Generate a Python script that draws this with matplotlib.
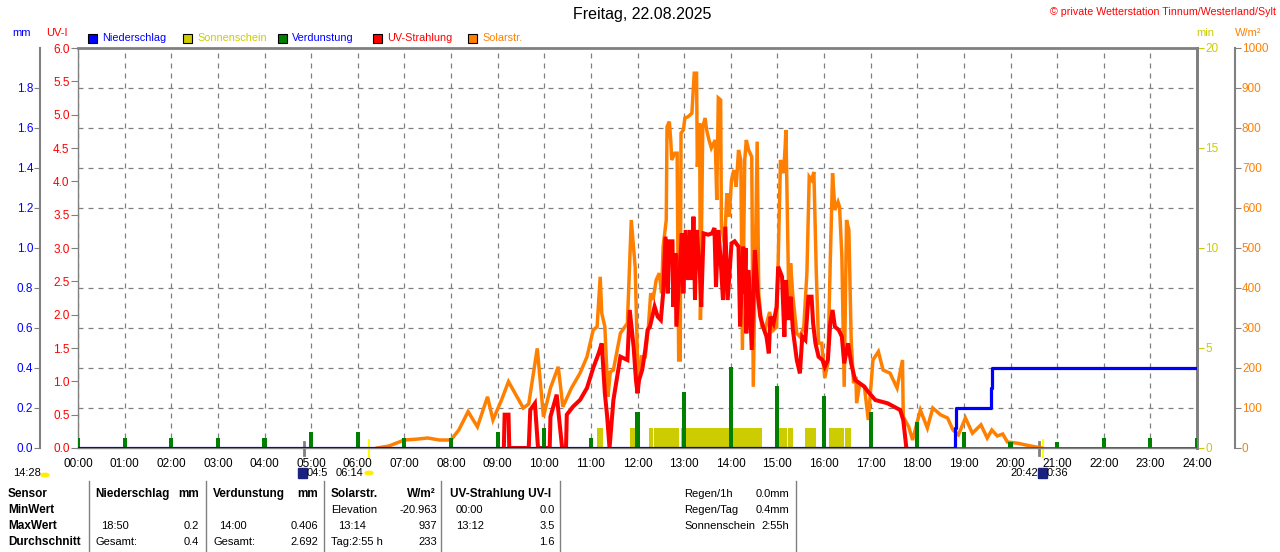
import matplotlib
matplotlib.use('Agg')
import matplotlib.pyplot as plt
from matplotlib.patches import Rectangle, Circle
import numpy as np

plt.rcParams['font.family'] = ['Liberation Sans', 'DejaVu Sans']
plt.rcParams['font.size'] = 8.5

# --- data ---
hours = list(range(25))
hour_labels = ['%02d:00' % h for h in hours]

solar_time = ['06:25', '06:40', '07:00', '07:15', '07:30', '07:45', '08:00', '08:10', '08:22', '08:34',
              '08:47', '08:54', '09:05', '09:14', '09:33', '09:40', '09:51', '09:59', '10:08', '10:18',
              '10:24', '10:35', '10:46', '10:55', '11:03', '11:08', '11:12', '11:14', '11:18', '11:22',
              '11:25', '11:29', '11:38', '11:47', '11:52', '11:57', '12:00', '12:02', '12:05', '12:10',
              '12:14', '12:17', '12:20', '12:24', '12:28', '12:31', '12:33', '12:37', '12:38', '12:41',
              '12:43', '12:44', '12:48', '12:51', '12:53', '12:55', '12:56', '12:59', '13:01', '13:05',
              '13:10', '13:13', '13:16', '13:17', '13:20', '13:21', '13:24', '13:27', '13:29', '13:32',
              '13:35', '13:40', '13:42', '13:44', '13:47', '13:48', '13:52', '13:55', '13:58', '14:01',
              '14:04', '14:07', '14:10', '14:13', '14:15', '14:18', '14:20', '14:23', '14:27', '14:29',
              '14:34', '14:36', '14:40', '14:44', '14:50', '14:55', '14:59', '15:01', '15:04', '15:08',
              '15:10', '15:11', '15:13', '15:15', '15:17', '15:20', '15:25', '15:29', '15:34', '15:38',
              '15:41', '15:44', '15:47', '15:50', '15:53', '15:57', '16:01', '16:05', '16:08', '16:11',
              '16:14', '16:18', '16:20', '16:23', '16:26', '16:29', '16:32', '16:35', '16:38', '16:41',
              '16:42', '16:46', '16:52', '16:57', '17:03', '17:10', '17:16', '17:25', '17:34', '17:41',
              '17:42', '17:49', '17:54', '18:04', '18:13', '18:20', '18:30', '18:39', '18:46', '18:53',
              '19:02', '19:11', '19:22', '19:30', '19:36', '19:43', '19:50', '19:56', '20:09', '20:26',
              '20:40']
solar_wm2 = [0, 5, 20, 22, 25, 20, 20, 45, 91, 53,
             128, 70, 120, 166, 100, 110, 249, 78, 150, 203,
             103, 150, 187, 228, 295, 303, 428, 337, 303, 128,
             190, 195, 287, 312, 570, 452, 220, 170, 228, 228,
             303, 387, 370, 420, 437, 387, 503, 570, 803, 816,
             762, 720, 737, 737, 220, 220, 787, 795, 825, 828,
             837, 937, 937, 703, 812, 320, 803, 825, 795, 770,
             750, 770, 620, 875, 870, 553, 512, 637, 578, 670,
             695, 653, 745, 720, 245, 720, 770, 745, 728, 153,
             766, 387, 303, 295, 340, 295, 303, 462, 720, 687,
             753, 795, 570, 337, 462, 378, 287, 278, 303, 437,
             678, 670, 690, 445, 262, 262, 175, 212, 462, 687,
             595, 615, 603, 478, 153, 570, 545, 270, 162, 178,
             112, 162, 153, 70, 220, 241, 195, 187, 150, 220,
             78, 53, 20, 95, 50, 100, 83, 75, 45, 33,
             75, 37, 58, 25, 45, 30, 35, 15, 12, 5,
             0]

uv_time = ['09:08', '09:09', '09:14', '09:15', '09:40', '09:42', '09:48', '09:52', '10:07', '10:08',
           '10:16', '10:23', '10:28', '10:29', '10:37', '10:46', '10:55', '11:03', '11:10', '11:14',
           '11:18', '11:21', '11:24', '11:29', '11:38', '11:47', '11:50', '11:55', '11:58', '12:00',
           '12:02', '12:06', '12:10', '12:13', '12:16', '12:22', '12:26', '12:30', '12:33', '12:36',
           '12:39', '12:41', '12:45', '12:46', '12:49', '12:50', '12:55', '12:57', '12:59', '13:02',
           '13:05', '13:08', '13:10', '13:12', '13:14', '13:16', '13:20', '13:22', '13:25', '13:31',
           '13:36', '13:39', '13:41', '13:44', '13:47', '13:50', '13:53', '13:56', '14:01', '14:05',
           '14:10', '14:12', '14:16', '14:18', '14:19', '14:20', '14:23', '14:27', '14:31', '14:35',
           '14:38', '14:43', '14:46', '14:49', '14:51', '14:55', '14:59', '15:01', '15:06', '15:09',
           '15:11', '15:14', '15:17', '15:20', '15:25', '15:29', '15:32', '15:36', '15:40', '15:44',
           '15:46', '15:49', '15:53', '15:58', '16:01', '16:05', '16:08', '16:11', '16:14', '16:19',
           '16:23', '16:26', '16:31', '16:35', '16:40', '16:46', '16:52', '16:55', '17:00', '17:06',
           '17:22', '17:30', '17:38', '17:42', '17:46']
uv_index = [0, 0.5, 0.5, 0, 0, 0.57, 0.67, 0, 0, 0.47,
            0.8, 0, 0, 0.5, 0.62, 0.72, 0.9, 1.2, 1.42, 1.57,
            0.82, 0.47, 0, 0.72, 1.37, 1.32, 2.07, 1.52, 1.02, 0.82,
            1.02, 1.17, 1.47, 1.77, 1.82, 2.12, 1.97, 1.92, 2.32, 3.17,
            2.32, 3.1, 3.1, 2.12, 2.92, 1.82, 2.82, 3.22, 2.32, 3.27,
            2.52, 3.27, 2.52, 3.47, 2.22, 3.27, 2.72, 2.12, 3.22, 3.2,
            3.22, 3.3, 2.42, 3.27, 2.82, 2.22, 3.32, 2.22, 3.07, 3.1,
            3.02, 1.82, 3.02, 2.32, 3.0, 1.72, 2.67, 1.47, 2.97, 2.27,
            1.97, 1.77, 1.67, 1.42, 1.97, 1.87, 2.12, 2.72, 2.57, 1.67,
            2.52, 1.92, 2.27, 1.77, 1.32, 1.12, 1.67, 1.62, 2.27, 2.27,
            1.87, 1.57, 1.37, 1.32, 1.22, 1.32, 1.87, 2.07, 1.82, 1.77,
            1.67, 1.27, 1.57, 1.27, 1.02, 0.97, 0.92, 0.87, 0.8, 0.72,
            0.67, 0.62, 0.57, 0.42, 0]

evap_mm = [0.05, 0.05, 0.05, 0.05, 0.05, 0.08, 0.08, 0.05, 0.05, 0.08, 0.10, 0.05,
           0.18, 0.28, 0.406, 0.31, 0.26, 0.18, 0.13, 0.08, 0.03, 0.03, 0.05, 0.05, 0.05]

rain_time = ['00:00', '18:48', '18:49', '18:50', '19:34', '19:35', '19:36', '24:00']
rain_mm = [0, 0, 0.1, 0.2, 0.2, 0.3, 0.4, 0.4]

sun_start = ['11:08', '11:50', '12:15', '12:21', '12:56', '14:29', '15:02', '15:14', '15:35', '16:06', '16:27']
sun_end = ['11:16', '11:59', '12:20', '12:53', '14:28', '14:40', '15:13', '15:20', '15:50', '16:26', '16:35']
sun_min = [1.0] * len(sun_start)

dawn_times = ['04:51', '20:37']
sunrise_times = ['06:14', '20:42']

uv_ticks = np.arange(0, 6.01, 0.5)
mm_ticks = np.arange(0, 1.81, 0.2)
min_ticks = [0, 5, 10, 15, 20]
wm2_ticks = list(range(0, 1001, 100))


def hrs(t):
    h, m = t.split(':')
    return int(h) + int(m) / 60.0


BLUE = '#0000ff'
YEL = '#cccc00'
GREEN = '#008000'
RED = '#ff0000'
ORANGE = '#ff8000'
GRAY = '#808080'

W, H = 1280, 552
fig = plt.figure(figsize=(W / 100, H / 100), dpi=100)
L, R, T, B = 78, 1197, 48, 448


def fx(x):
    return x / W


def fy(y):
    return 1 - y / H


# base axes: grid + UV-I scale
ax = fig.add_axes([fx(L), fy(B), (R - L) / W, (B - T) / H])
ax.set_xlim(0, 24)
ax.set_ylim(0, 6)
ax.set_xticks(hours)
ax.set_xticklabels(hour_labels)
ax.set_yticks(uv_ticks)
ax.set_yticklabels(['%.1f' % v for v in uv_ticks])
ax.set_yticks(np.linspace(0, 6, 11), minor=True)
ax.grid(axis='x', which='major', color=GRAY, ls=(0, (4, 4)), lw=0.9)
ax.grid(axis='y', which='minor', color=GRAY, ls=(0, (4, 4)), lw=0.9)
ax.tick_params(axis='y', which='minor', length=0)
ax.tick_params(axis='y', which='major', color=GRAY, labelcolor=RED, length=5, pad=1)
ax.tick_params(axis='x', length=0, pad=7)
for s in ax.spines.values():
    s.set_color(GRAY)
ax.spines['top'].set_linewidth(2)
ax.spines['right'].set_linewidth(2)
ax.spines['left'].set_linewidth(1)
ax.spines['bottom'].set_linewidth(1)

# sunshine (min)
ax_sun = ax.twinx()
ax_sun.set_ylim(0, 20)
ax_sun.set_yticks(min_ticks)
ax_sun.tick_params(axis='y', color=YEL, labelcolor=YEL, length=5, pad=1)
ax_sun.spines['right'].set_color(GRAY)
ax_sun.spines['right'].set_linewidth(2)
for k in ['left', 'top', 'bottom']:
    ax_sun.spines[k].set_visible(False)
s0 = [hrs(t) for t in sun_start]
s1 = [hrs(t) for t in sun_end]
ax_sun.bar(s0, sun_min, width=np.array(s1) - np.array(s0), align='edge', color=YEL, lw=0)

# solar radiation (W/m2)
ax_sol = ax.twinx()
ax_sol.set_ylim(0, 1000)
ax_sol.set_yticks(wm2_ticks)
ax_sol.spines['right'].set_position(('axes', (1235 - L) / (R - L)))
ax_sol.spines['right'].set_color(GRAY)
ax_sol.spines['right'].set_linewidth(1.5)
for k in ['left', 'top', 'bottom']:
    ax_sol.spines[k].set_visible(False)
ax_sol.tick_params(axis='y', color=GRAY, labelcolor=ORANGE, length=4, pad=1)
ax_sol.plot([hrs(t) for t in solar_time], solar_wm2, color=ORANGE, lw=2.5, solid_joinstyle='miter')

# UV index
ax_uv = ax.twinx()
ax_uv.set_ylim(0, 6)
ax_uv.axis('off')
ax_uv.plot([hrs(t) for t in uv_time], uv_index, color=RED, lw=2.9, solid_joinstyle='miter')

# evaporation + precipitation (mm)
ax_mm = ax.twinx()
ax_mm.set_ylim(0, 2.0)
ax_mm.yaxis.set_ticks_position('left')
ax_mm.set_yticks(mm_ticks)
ax_mm.set_yticklabels(['%.1f' % v for v in mm_ticks])
ax_mm.spines['left'].set_visible(True)
ax_mm.spines['left'].set_position(('axes', (40 - L) / (R - L)))
ax_mm.spines['left'].set_color(GRAY)
ax_mm.spines['left'].set_linewidth(1.5)
for k in ['right', 'top', 'bottom']:
    ax_mm.spines[k].set_visible(False)
ax_mm.tick_params(axis='y', color=GRAY, labelcolor=BLUE, length=4, pad=1)
ax_mm.axhline(0, color=GREEN, lw=2)
ax_mm.bar(hours, evap_mm, width=0.09, color=GREEN, lw=0)
ax_mm.plot([hrs(t) for t in rain_time], rain_mm, color=BLUE, lw=2.3, drawstyle='steps-post')

# dawn / sunrise marks across the time axis
for t in dawn_times:
    ax.axvline(hrs(t), ymin=-0.018, ymax=0.015, color=GRAY, lw=2, clip_on=False)
for t in sunrise_times:
    ax.axvline(hrs(t), ymin=-0.022, ymax=0.02, color='#ffff00', lw=1.5, clip_on=False)

# titles and unit headers
fig.text(fx(642), fy(15), 'Freitag, 22.08.2025', ha='center', va='center', fontsize=11.5)
fig.text(fx(1276), fy(12), '\u00a9 private Wetterstation Tinnum/Westerland/Sylt', ha='right', va='center',
         color=RED, fontsize=7.7)
fig.text(fx(22), fy(33), 'mm', ha='center', va='center', color=BLUE, fontsize=8)
fig.text(fx(57), fy(33), 'UV-I', ha='center', va='center', color=RED, fontsize=8)
fig.text(fx(1205), fy(33), 'min', ha='center', va='center', color=YEL, fontsize=8)
fig.text(fx(1248), fy(33), 'W/m\u00b2', ha='center', va='center', color=ORANGE, fontsize=8)

# legend
legend_items = [('Niederschlag', BLUE, BLUE, 88), ('Sonnenschein', YEL, YEL, 183),
                ('Verdunstung', GREEN, BLUE, 278), ('UV-Strahlung', RED, RED, 373),
                ('Solarstr.', ORANGE, ORANGE, 468)]
for name, c, tc, x in legend_items:
    fig.patches.append(Rectangle((fx(x), fy(43)), 9 / W, 9 / H, transform=fig.transFigure,
                                 facecolor=c, edgecolor='black', lw=0.8))
    fig.text(fx(x + 14), fy(38), name, ha='left', va='center', color=tc, fontsize=7.8)

# sun / moon notes under the axis
fig.text(fx(13), fy(473), '14:28', ha='left', va='center', fontsize=8)
fig.patches.append(Circle((fx(45), fy(475)), 4 / W, transform=fig.transFigure, color='#ffee00'))
fig.patches.append(Rectangle((fx(298), fy(478)), 9 / W, 10 / H, transform=fig.transFigure, color='#1a237e'))
fig.text(fx(307), fy(473), '04:5', ha='left', va='center', fontsize=8)
fig.text(fx(336), fy(473), '06:14', ha='left', va='center', fontsize=8)
fig.patches.append(Circle((fx(369), fy(473)), 4 / W, transform=fig.transFigure, color='#ffee00'))
fig.text(fx(1010), fy(473), '20:42', ha='left', va='center', fontsize=8)
fig.patches.append(Rectangle((fx(1038), fy(478)), 9 / W, 10 / H, transform=fig.transFigure, color='#1a237e'))
fig.text(fx(1047), fy(473), '0:36', ha='left', va='center', fontsize=8)

# statistics table
rows_y = [494, 510, 526, 542]
for x in [89, 206, 324, 441, 560, 796]:
    fig.lines.append(plt.Line2D([fx(x), fx(x)], [fy(481), fy(552)], transform=fig.transFigure,
                                color=GRAY, lw=1))


def cell(x, row, txt, ha='left', bold=False):
    fig.text(fx(x), fy(rows_y[row]), txt, ha=ha, va='center',
             fontweight='bold' if bold else 'normal', fontsize=8.5 if bold else 8)


for i, t in enumerate(['Sensor', 'MinWert', 'MaxWert', 'Durchschnitt']):
    cell(8, i, t, bold=True)
cell(95, 0, 'Niederschlag', bold=True)
cell(199, 0, 'mm', 'right', True)
cell(101, 2, '18:50')
cell(199, 2, '0.2', 'right')
cell(95, 3, 'Gesamt:')
cell(199, 3, '0.4', 'right')
cell(213, 0, 'Verdunstung', bold=True)
cell(318, 0, 'mm', 'right', True)
cell(219, 2, '14:00')
cell(318, 2, '0.406', 'right')
cell(213, 3, 'Gesamt:')
cell(318, 3, '2.692', 'right')
cell(331, 0, 'Solarstr.', bold=True)
cell(436, 0, 'W/m\u00b2', 'right', True)
cell(331, 1, 'Elevation')
cell(437, 1, '-20.963', 'right')
cell(338, 2, '13:14')
cell(437, 2, '937', 'right')
cell(331, 3, 'Tag:2:55 h')
cell(437, 3, '233', 'right')
cell(450, 0, 'UV-Strahlung UV-I', bold=True)
cell(456, 1, '00:00')
cell(555, 1, '0.0', 'right')
cell(456, 2, '13:12')
cell(555, 2, '3.5', 'right')
cell(555, 3, '1.6', 'right')
cell(684, 0, 'Regen/1h')
cell(789, 0, '0.0mm', 'right')
cell(684, 1, 'Regen/Tag')
cell(789, 1, '0.4mm', 'right')
cell(684, 2, 'Sonnenschein')
cell(789, 2, '2:55h', 'right')

fig.savefig('out.png', dpi=100, facecolor='white')
